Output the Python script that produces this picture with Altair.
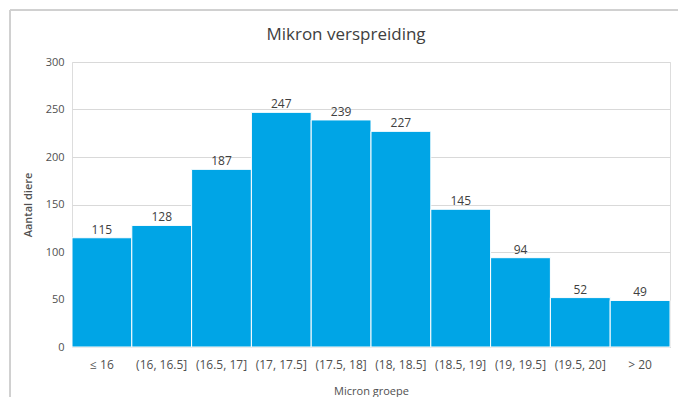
import altair as alt
import pandas as pd

categories = ["≤ 16", "(16, 16.5]", "(16.5, 17]", "(17, 17.5]", "(17.5, 18]",
              "(18, 18.5]", "(18.5, 19]", "(19, 19.5]", "(19.5, 20]", "> 20"]
counts = [115, 128, 187, 247, 239, 227, 145, 94, 52, 49]

df = pd.DataFrame({"groep": categories, "aantal": counts})

W, H = 598, 285

x_enc = alt.X("groep:N", sort=categories, title="Micron groepe",
              scale=alt.Scale(paddingInner=0, paddingOuter=0),
              axis=alt.Axis(labelAngle=0, ticks=False, domain=True, domainColor="#d9d9d9",
                            labelPadding=12, labelFontSize=12, labelColor="#505050",
                            titleFontSize=11, titleColor="#505050", titleFontWeight="normal",
                            titlePadding=15, labelFont="Open Sans", titleFont="Open Sans"))
y_enc = alt.Y("aantal:Q", title="Aantal diere",
              scale=alt.Scale(domain=[0, 300]),
              axis=alt.Axis(values=[0, 50, 100, 150, 200, 250, 300], ticks=False, domain=False,
                            gridColor="#d9d9d9", labelPadding=8, labelFontSize=11,
                            labelColor="#505050", titleFontSize=11, titleColor="#505050",
                            titleFontWeight=600, titlePadding=12,
                            labelFont="Open Sans", titleFont="Open Sans"))

base = alt.Chart(df)

frame = alt.Chart(df).mark_rect(fill="white", fillOpacity=0, stroke="#d0d0d0",
                                strokeWidth=1, clip=False).encode(
    x=alt.value(-62), x2=alt.value(640), y=alt.value(-52), y2=alt.value(360)
)

bars = base.mark_bar(color="#00A5E6", stroke="white", strokeWidth=1).encode(x=x_enc, y=y_enc)

labels = base.mark_text(dy=-8, fontSize=12, color="#404040", font="Open Sans").encode(
    x=alt.X("groep:N", sort=categories),
    y="aantal:Q",
    text="aantal:Q",
)

chart = alt.layer(frame, bars, labels).properties(
    width=W, height=H,
    title=alt.TitleParams("Mikron verspreiding", fontSize=17, font="Open Sans",
                          fontWeight="normal", color="#404040", anchor="middle",
                          offset=0, dy=34, dx=-25),
    autosize=alt.AutoSizeParams(type="none"),
    padding={"left": 64, "top": 54, "right": 8, "bottom": 50},
).configure_view(stroke=None).configure(background="white")

chart.save("out.html", embed_options={"renderer": "svg", "actions": False})
